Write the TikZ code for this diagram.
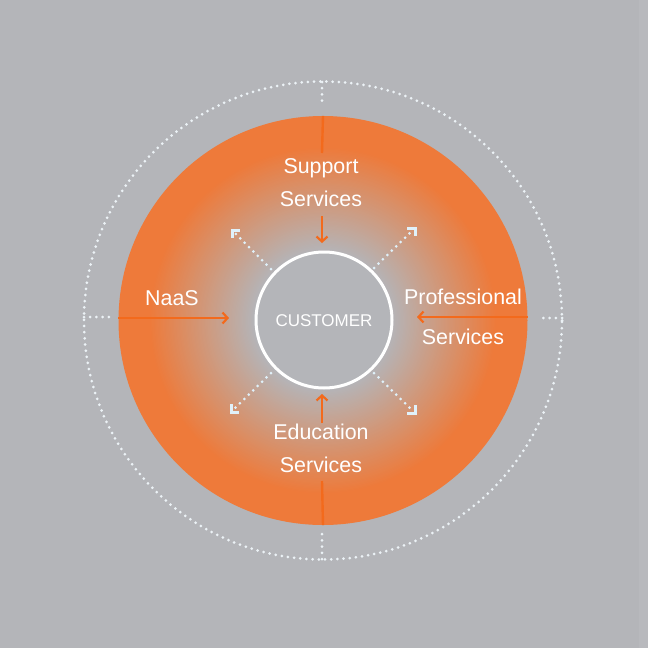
\documentclass[tikz,border=0pt]{standalone}
\usepackage{fontspec}
\setmainfont{Liberation Sans}
\usetikzlibrary{arrows.meta}
\definecolor{bggray}{RGB}{180,181,185}
\definecolor{stripgray}{RGB}{184,185,189}
\definecolor{discorange}{RGB}{238,122,58}
\definecolor{lineorange}{RGB}{243,106,28}
\definecolor{dotwhite}{RGB}{236,242,246}
\definecolor{tipblue}{RGB}{224,241,250}
\tikzset{
  lbl/.style={text=white, align=center, inner sep=0pt, font=\fontsize{21.4}{33}\selectfont},
  proflbl/.style={text=white, align=center, inner sep=0pt, font=\fontsize{21.4}{40}\selectfont},
  custlbl/.style={text=white, font=\fontsize{17}{20}\selectfont},
  oline/.style={draw=lineorange, line width=2.4pt},
  oarrow/.style={draw=lineorange, line width=2.4pt, -{Straight Barb[length=5pt,width=11pt,line width=2.2pt]}},
  dotted ring/.style={draw=dotwhite, line width=3pt, line cap=round, dash pattern=on 0pt off 6.2pt},
  dline/.style={draw=tipblue, line width=3pt, line cap=round, dash pattern=on 0pt off 6.2pt},
  ltip/.style={draw=tipblue, line width=3pt, line cap=butt, line join=miter},
}
\begin{document}
\begin{tikzpicture}[x=1pt,y=-1pt]
\useasboundingbox (0,0) rectangle (648,648);
\fill[bggray] (0,0) rectangle (648,648);
\fill[stripgray] (639,0) rectangle (648,648);
\coordinate (c) at (323,320.5);
% outer dotted ring and ticks
\draw[dotted ring] (c) circle[radius=239pt];
\coordinate (tt1) at (322,82);  \coordinate (tt2) at (322,104);
\coordinate (bt1) at (322,534); \coordinate (bt2) at (322,559);
\coordinate (lt1) at (84,317);  \coordinate (lt2) at (110,317);
\coordinate (rt1) at (538,318); \coordinate (rt2) at (562,318);
\draw[dotted ring] (tt1) -- (tt2);
\draw[dotted ring] (bt2) -- (bt1);
\draw[dotted ring] (lt1) -- (lt2);
\draw[dotted ring] (rt2) -- (rt1);
% gradient disc
\foreach \r in {204.5,203.3,...,60} {
  \pgfmathsetmacro\p{max(0,min(100,(\r-68)/106*100))}
  \fill[discorange!\p!bggray] (c) circle[radius=\r pt];
}
\node[circle, minimum size=409pt, inner sep=0pt] (disc) at (c) {};
% customer circle
\node[circle, draw=white, line width=3pt, fill=bggray, minimum size=136pt, inner sep=0pt] (cust) at (324,320) {};
\node[custlbl] (custtext) at (324,321) {CUSTOMER};
% labels
\node[lbl] (sup) at (321,182.5) {Support\\Services};
\node[lbl] (edu) at (321,448.5) {Education\\Services};
\node[lbl] (naas) at (172,298) {NaaS};
\node[proflbl] (prof) at (463,317) {Professional\\Services};
% orange connectors
\coordinate (topend) at (322,153);
\coordinate (botend) at (322,481);
\coordinate (supA) at (322,216); \coordinate (supB) at (322,243);
\coordinate (eduA) at (322,423); \coordinate (eduB) at (322,394);
\coordinate (naasB) at (229,318);
\coordinate (profB) at (417,317);
\draw[oline] (disc.north) -- (topend);
\draw[oline] (disc.south) -- (botend);
\draw[oarrow] (supA) -- (supB);
\draw[oarrow] (eduA) -- (eduB);
\draw[oarrow] (disc.west |- naasB) -- (naasB);
\draw[oarrow] (disc.east |- profB) -- (profB);
% diagonal dotted arrows
\coordinate (ul1) at (271,269); \coordinate (ul2) at (232,230);
\coordinate (ur1) at (374,268); \coordinate (ur2) at (415,228);
\coordinate (ll1) at (271,373); \coordinate (ll2) at (231,412);
\coordinate (lr1) at (374,373); \coordinate (lr2) at (415,413);
\draw[dline] (ul1) -- ([xshift=3pt,yshift=-3pt]ul2);
\draw[dline] (ur1) -- ([xshift=-3pt,yshift=-3pt]ur2);
\draw[dline] (ll1) -- ([xshift=3pt,yshift=3pt]ll2);
\draw[dline] (lr1) -- ([xshift=-3pt,yshift=3pt]lr2);
\draw[ltip] ([xshift=8pt]ul2) -- (ul2) -- ([yshift=-8pt]ul2);
\draw[ltip] ([xshift=-8pt]ur2) -- (ur2) -- ([yshift=-8pt]ur2);
\draw[ltip] ([xshift=8pt]ll2) -- (ll2) -- ([yshift=8pt]ll2);
\draw[ltip] ([xshift=-8pt]lr2) -- (lr2) -- ([yshift=8pt]lr2);
\end{tikzpicture}
\end{document}
